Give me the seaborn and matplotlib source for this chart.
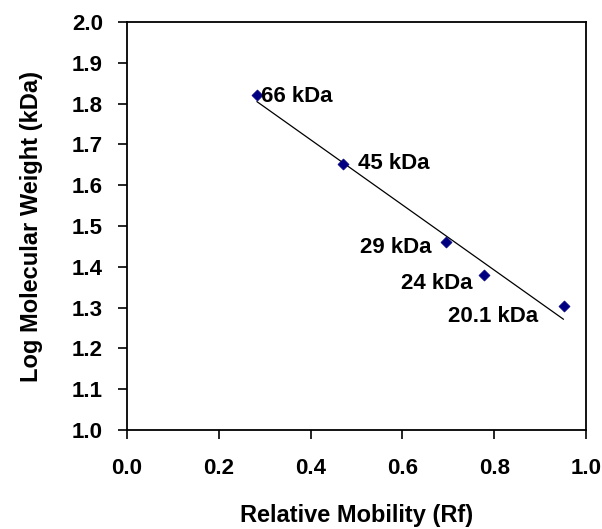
import matplotlib

matplotlib.use("Agg")
import matplotlib.pyplot as plt
import numpy as np
import pandas as pd
import seaborn as sns

# Standard curve data (marker proteins)
labels = ["66 kDa", "45 kDa", "29 kDa", "24 kDa", "20.1 kDa"]
rf = [0.283, 0.470, 0.694, 0.778, 0.951]
log_mw = [1.820, 1.653, 1.462, 1.380, 1.303]

df = pd.DataFrame({"rf": rf, "log_mw": log_mw, "label": labels})

sns.set_style("white")
plt.rcParams["font.family"] = ["Liberation Sans", "DejaVu Sans"]
plt.rcParams["font.weight"] = "bold"
plt.rcParams["text.color"] = "black"
plt.rcParams["axes.labelcolor"] = "black"
plt.rcParams["xtick.color"] = "black"
plt.rcParams["ytick.color"] = "black"

fig = plt.figure(figsize=(6.02, 5.29), dpi=100)
ax = fig.add_axes([127 / 602, 1 - 430 / 529, 459 / 602, 408 / 529])

# Linear trendline
sns.regplot(
    data=df,
    x="rf",
    y="log_mw",
    scatter=False,
    ci=None,
    truncate=True,
    line_kws={"color": "black", "linewidth": 0.9},
    ax=ax,
)

# Points
sns.scatterplot(
    data=df,
    x="rf",
    y="log_mw",
    marker="D",
    color="#000080",
    s=32,
    edgecolor="#000080",
    zorder=3,
    ax=ax,
)

# Point labels
offsets = {
    "66 kDa": (3, -1, "left", "center"),
    "45 kDa": (11, 0, "left", "center"),
    "29 kDa": (-10, -4, "right", "center"),
    "24 kDa": (-8, -6, "right", "center"),
    "20.1 kDa": (-18, -7, "right", "center"),
}
for _, row in df.iterrows():
    dx, dy, ha, va = offsets[row["label"]]
    ax.annotate(
        row["label"],
        (row["rf"], row["log_mw"]),
        xytext=(dx, dy),
        textcoords="offset points",
        ha=ha,
        va=va,
        fontsize=16,
        fontweight="bold",
    )

ax.set_xlim(0, 1.0)
ax.set_ylim(1.0, 2.0)
ax.set_xticks(np.arange(0, 1.01, 0.2))
ax.set_yticks(np.arange(1.0, 2.01, 0.1))
ax.set_xticklabels([f"{v:.1f}" for v in np.arange(0, 1.01, 0.2)])
ax.set_yticklabels([f"{v:.1f}" for v in np.arange(1.0, 2.01, 0.1)])
ax.tick_params(
    axis="both",
    direction="out",
    length=6.3,
    width=1.2,
    labelsize=16,
    color="black",
    left=True,
    bottom=True,
)
ax.tick_params(axis="x", pad=14)
ax.tick_params(axis="y", pad=11)
for lbl in ax.get_xticklabels() + ax.get_yticklabels():
    lbl.set_fontweight("bold")

for side in ["left", "bottom", "top", "right"]:
    ax.spines[side].set_visible(True)
    ax.spines[side].set_color("black")
    ax.spines[side].set_linewidth(1.3)

ax.set_xlabel("Relative Mobility (Rf)", fontsize=17, fontweight="bold", labelpad=18)
ax.set_ylabel(
    "Log Molecular Weight (kDa)", fontsize=17, fontweight="bold", labelpad=21
)

fig.savefig("out.png", dpi=100, facecolor="white")
